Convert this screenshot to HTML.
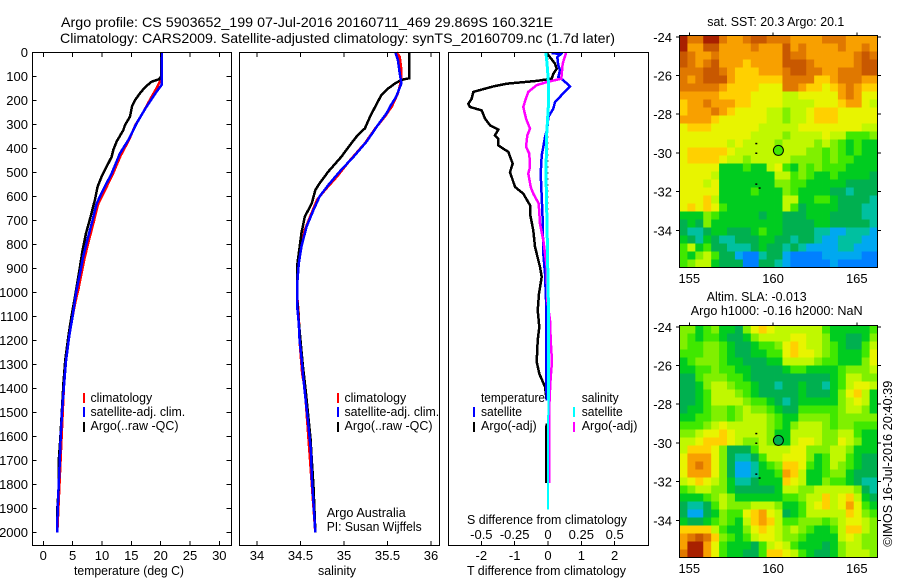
<!DOCTYPE html>
<html lang="en">
<head>
<meta charset="utf-8">
<title>Argo profile</title>
<style>
html,body{margin:0;padding:0;background:#fff;width:900px;height:580px;overflow:hidden}
svg{display:block}
text{font-family:"Liberation Sans",sans-serif;font-size:13px;fill:#000}
</style>
</head>
<body>
<svg id="chart" xmlns="http://www.w3.org/2000/svg" width="900" height="580" viewBox="0 0 900 580">
  <rect x="0" y="0" width="900" height="580" fill="#fff"/>
  <text x="61" y="27" font-size="14" textLength="492" lengthAdjust="spacingAndGlyphs" style="font-size:14px">Argo profile: CS 5903652_199 07-Jul-2016 20160711_469 29.869S 160.321E</text>
  <text x="60" y="43" textLength="555" lengthAdjust="spacingAndGlyphs" style="font-size:14px">Climatology: CARS2009. Satellite-adjusted climatology: synTS_20160709.nc (1.7d later)</text>

  <g id="map1"></g>
  <g id="map2"></g>
  <g id="lines"></g>
  <g id="ticks"></g>

  <rect x="32.5" y="52.5" width="199" height="493" fill="none" stroke="#000"/>
  <rect x="239.5" y="52.5" width="200" height="493" fill="none" stroke="#000"/>
  <rect x="448.5" y="52.5" width="200" height="493" fill="none" stroke="#000"/>
  <rect x="679.5" y="35.5" width="198" height="232" fill="none" stroke="#000"/>
  <rect x="679.5" y="325.5" width="198" height="232" fill="none" stroke="#000"/>

  <text x="74" y="575" textLength="110" lengthAdjust="spacingAndGlyphs">temperature (deg C)</text>
  <text x="318" y="575" textLength="38" lengthAdjust="spacingAndGlyphs">salinity</text>
  <text x="467" y="575" textLength="159" lengthAdjust="spacingAndGlyphs">T difference from climatology</text>
  <text x="467" y="524" textLength="160" lengthAdjust="spacingAndGlyphs">S difference from climatology</text>

  <g>
    <rect x="83" y="393" width="2" height="10" fill="#f00"/>
    <rect x="83" y="407" width="2" height="10" fill="#00f"/>
    <rect x="83" y="422" width="2" height="10" fill="#000"/>
    <text x="90.5" y="402" textLength="61.7" lengthAdjust="spacingAndGlyphs">climatology</text>
    <text x="90.5" y="416" textLength="94.7" lengthAdjust="spacingAndGlyphs">satellite-adj. clim.</text>
    <text x="90.5" y="430" textLength="88" lengthAdjust="spacingAndGlyphs">Argo(..raw -QC)</text>
  </g>
  <g>
    <rect x="337" y="393" width="2" height="10" fill="#f00"/>
    <rect x="337" y="407" width="2" height="10" fill="#00f"/>
    <rect x="337" y="422" width="2" height="10" fill="#000"/>
    <text x="344.5" y="402" textLength="61.7" lengthAdjust="spacingAndGlyphs">climatology</text>
    <text x="344.5" y="416" textLength="94.7" lengthAdjust="spacingAndGlyphs">satellite-adj. clim.</text>
    <text x="344.5" y="430" textLength="88" lengthAdjust="spacingAndGlyphs">Argo(..raw -QC)</text>
  </g>
  <g>
    <text x="481" y="402" textLength="64" lengthAdjust="spacingAndGlyphs">temperature</text>
    <rect x="473" y="407" width="2" height="10" fill="#00f"/>
    <text x="481" y="416" textLength="41" lengthAdjust="spacingAndGlyphs">satellite</text>
    <rect x="473" y="422" width="2" height="10" fill="#000"/>
    <text x="481" y="430" textLength="55.7" lengthAdjust="spacingAndGlyphs">Argo(-adj)</text>
    <text x="581.7" y="402" textLength="37" lengthAdjust="spacingAndGlyphs">salinity</text>
    <rect x="573" y="407" width="2" height="10" fill="#0ff"/>
    <text x="581.7" y="416" textLength="41" lengthAdjust="spacingAndGlyphs">satellite</text>
    <rect x="573" y="422" width="2" height="10" fill="#f0f"/>
    <text x="581.7" y="430" textLength="55.7" lengthAdjust="spacingAndGlyphs">Argo(-adj)</text>
  </g>

  <text x="326.7" y="517" textLength="79" lengthAdjust="spacingAndGlyphs">Argo Australia</text>
  <text x="326.7" y="531" textLength="95" lengthAdjust="spacingAndGlyphs">PI: Susan Wijffels</text>

  <text x="707.3" y="26" textLength="137" lengthAdjust="spacingAndGlyphs">sat. SST: 20.3 Argo: 20.1</text>
  <text x="706.7" y="301" textLength="100" lengthAdjust="spacingAndGlyphs">Altim. SLA: -0.013</text>
  <text x="690.7" y="315" textLength="172" lengthAdjust="spacingAndGlyphs">Argo h1000: -0.16 h2000: NaN</text>
  <text transform="translate(892,546.7) rotate(-90)" textLength="166" lengthAdjust="spacingAndGlyphs">©IMOS 16-Jul-2016 20:40:39</text>
</svg>

<script>
// ---------- tick label arrays ----------
var depthTicks = [0,100,200,300,400,500,600,700,800,900,1000,1100,1200,1300,1400,1500,1600,1700,1800,1900,2000];
var tempTicks = [0,5,10,15,20,25,30];
var salTicks = [34,34.5,35,35.5,36];
var tDiffTicks = [-2,-1,0,1,2];
var sDiffTicks = [-0.5,-0.25,0,0.25,0.5];
var lonTicks = [155,160,165];
var latTicks = [-24,-26,-28,-30,-32,-34];

// ---------- temperature profiles ----------
var tempClimDepth = [0,112,150,192,247,303,365,430,510,580,635,705,790,860,930,985,1010,1060,1100,1180,1290,1400,2000];
var tempClim = [20.17,20.1,19.3,18.3,17.1,15.7,14.6,13.2,11.8,10.4,9.3,8.6,7.7,7.0,6.45,6.0,5.75,5.3,5.0,4.43,3.86,3.5,2.39];
var tempArgoDepth = [0,100,112,122,146,171,199,226,268,303,324,372,407,435,476,518,560,615,685,754,824,893,1004,1100,1180,1280,1375,1500,1610,1700,1810,1890,2000];
var tempArgo = [20.17,20.06,19.77,18.47,17.33,16.48,15.63,15.11,14.77,13.92,13.64,12.5,11.93,11.65,10.8,9.94,9.26,8.8,8.07,7.27,6.7,6.25,5.5,4.8,4.3,3.75,3.45,3.15,2.9,2.65,2.65,2.42,2.35];
var tempSatDepth = [0,136,164,226,296,365,421,504,574,629,699,782,851,921,976,1005,1100,1180,1290,1400,1500,1610,1750,1840,1960,2000];
var tempSat = [20.17,20.17,19.3,17.6,15.9,14.5,13.07,11.65,10.2,9.1,8.4,7.5,6.8,6.25,5.8,5.57,5.0,4.43,3.86,3.5,3.18,2.95,2.73,2.56,2.39,2.39];

// ---------- salinity profiles ----------
var salClimDepth = [0,18,74,115,171,226,268,317,379,449,518,574,615,685,740,838,921,1005,1100,1200,1250,1340,1380,1450,2000];
var salClim = [35.6,35.64,35.66,35.66,35.62,35.55,35.47,35.36,35.24,35.07,34.92,34.78,34.69,34.61,34.55,34.49,34.46,34.46,34.48,34.49,34.5,34.52,34.54,34.56,34.67];
var salArgoDepth = [0,108,115,129,150,178,226,268,317,344,386,435,497,546,574,629,685,754,838,893,976,1005,1100,1200,1300,1410,1500,1610,1700,1810,1950,2000];
var salArgo = [35.75,35.75,35.66,35.59,35.51,35.43,35.36,35.3,35.24,35.16,35.07,34.97,34.82,34.72,34.67,34.63,34.55,34.51,34.48,34.46,34.46,34.46,34.475,34.5,34.525,34.56,34.585,34.615,34.63,34.65,34.665,34.67];
var salSatDepth = [0,32,87,129,185,226,254,303,372,435,497,553,601,657,726,810,879,976,1050,1130,1200,1270,1350,1450,1550,1660,1770,1880,2000];
var salSat = [35.59,35.62,35.64,35.66,35.6,35.53,35.49,35.39,35.26,35.11,34.95,34.82,34.72,34.65,34.57,34.51,34.48,34.46,34.46,34.48,34.49,34.51,34.53,34.56,34.59,34.62,34.63,34.65,34.67];

// ---------- T difference (null = gap in the profile) ----------
var tDiffArgoDepth = [3,47,68,89,110,119,131,142,165,193,214,228,242,276,304,322,346,360,388,415,464,499,561,589,637,672,742,811,894,936,1006,1075,1144,1200,1290,1339,1394,1450,1500,1547,1575,1795];
var tDiffArgo = [-0.04,0.21,0.26,0.16,0.11,-0.34,-1.24,-1.64,-2.24,-2.29,-2.39,-2.34,-1.99,-1.89,-1.74,-1.49,-1.59,-1.49,-1.49,-1.19,-1.06,-1.14,-0.99,-0.74,-0.54,-0.54,-0.44,-0.39,-0.24,-0.19,-0.27,-0.31,-0.26,-0.31,-0.34,-0.26,-0.09,-0.04,null,-0.04,-0.06,-0.06];
var tDiffSatDepth = [3,8,20,54,75,103,114,142,207,235,269,318,353,394,429,506,603,700,839,922,1031,1131,1339,1450];
var tDiffSat = [0.11,0.38,0.28,0.31,0.36,0.31,0.44,0.66,0.21,0.16,0.01,-0.02,-0.09,-0.14,-0.19,-0.22,-0.19,-0.16,-0.14,-0.09,-0.06,-0.06,-0.06,-0.04];

// ---------- S difference ----------
var sDiffArgoDepth = [3,47,110,124,137,165,200,228,276,318,346,394,422,478,506,561,589,630,714,783,894,1033,1117,1200,1290,1353,1408,1492,1795];
var sDiffArgo = [0.135,0.11,0.1,-0.01,-0.085,-0.148,-0.17,-0.185,-0.165,-0.135,-0.155,-0.165,-0.14,-0.135,-0.148,-0.13,-0.11,-0.07,-0.06,-0.035,-0.01,-0.005,0.015,0.02,0.03,0.02,0.015,0.008,0.008];
var sDiffSatDepth = [3,61,117,228,339,506,783,1033,1131,1450];
var sDiffSat = [-0.015,-0.005,0.0025,0.0025,-0.01,-0.015,-0.005,0.0025,0.0025,0.0025];
var sDiffSatDeepDepth = [1450,1905];
var sDiffSatDeep = [0.0025,0];

// ---------- maps: colour level per cell, north row first ----------
var sstLevels = [
[13,11,11,13,13,11,10,10,11,12,12,11,11,11,10,10,10,10,11,11,11,10,10,10,10],
[13,10,10,12,12,10,10,10,10,11,10,10,10,12,10,11,10,10,10,10,11,10,10,11,10],
[12,11,10,10,11,10,10,10,10,10,10,10,10,12,11,11,10,10,10,10,10,10,11,12,11],
[12,11,10,11,12,10,10,10,9,10,10,10,10,12,12,12,11,10,10,10,10,10,11,12,12],
[11,11,11,12,12,11,10,9,9,9,10,10,10,11,12,12,11,11,10,10,11,11,11,12,12],
[11,10,11,12,12,12,10,9,9,9,9,9,9,11,11,11,11,9,9,10,11,11,11,10,10],
[11,11,11,11,11,10,9,9,9,9,8,8,8,11,11,10,9,9,8,9,10,11,10,9,9],
[10,10,10,10,10,9,9,9,9,8,8,8,8,7,7,8,8,8,8,8,10,11,10,8,8],
[9,10,10,11,10,10,10,9,9,8,8,8,8,7,7,7,7,8,8,8,9,10,10,8,7],
[9,10,10,10,11,10,9,8,8,8,8,7,7,6,7,7,8,9,9,9,8,8,8,8,8],
[10,10,10,10,9,8,8,8,8,8,8,7,7,6,7,7,8,9,9,9,8,8,8,8,8],
[8,9,9,9,8,8,8,8,8,8,7,7,7,7,7,8,8,8,8,8,8,8,8,7,7],
[8,8,8,8,8,8,8,8,8,7,7,7,7,6,7,7,7,7,8,7,7,5,5,5,6],
[8,8,8,8,8,8,7,8,7,7,7,7,6,7,7,7,7,6,7,6,5,4,5,4,4],
[8,9,9,9,9,9,8,7,7,7,7,7,6,7,7,7,6,6,5,6,5,4,5,4,4],
[8,9,9,9,9,8,7,7,6,7,7,7,7,7,6,6,6,6,5,6,5,5,4,4,4],
[8,8,8,8,8,4,4,4,5,4,4,7,8,5,4,6,5,6,5,5,5,4,4,4,4],
[8,8,8,8,7,4,4,4,4,4,4,4,7,7,5,6,5,4,4,5,4,4,4,4,3],
[8,8,8,7,8,4,4,4,4,4,4,4,6,6,5,5,4,4,4,4,4,3,3,3,3],
[8,8,8,8,8,4,4,4,4,5,4,4,4,6,5,4,4,4,4,3,3,2,3,3,3],
[8,8,8,9,7,4,4,4,4,4,4,4,4,7,7,4,4,5,5,4,3,3,3,3,2],
[8,9,8,9,8,5,4,4,4,4,4,4,4,7,5,3,4,4,4,4,3,3,3,2,2],
[4,4,4,6,5,4,4,4,4,4,3,4,4,3,3,3,4,4,4,3,3,3,3,2,2],
[3,4,3,6,4,4,4,4,4,4,4,4,4,3,3,3,3,4,4,3,3,3,3,3,2],
[3,2,2,3,4,4,3,3,3,4,5,4,4,3,3,3,3,2,2,1,1,2,2,2,1],
[4,3,2,4,3,2,2,3,3,3,4,4,3,3,2,3,3,2,1,1,2,2,2,1,1],
[5,7,4,5,3,3,2,2,2,3,4,3,3,2,3,2,1,1,1,1,2,2,1,1,1],
[5,4,6,7,5,3,3,1,0,0,2,3,3,1,0,0,0,0,1,1,1,1,1,0,0],
[5,6,7,7,4,3,3,3,0,0,3,3,2,1,0,0,0,0,0,1,0,0,0,0,0]
];
var slaLevels = [
[6,6,4,5,6,4,4,3,6,8,9,8,7,7,7,7,7,7,5,4,4,4,4,4,5],
[6,5,4,5,5,4,3,3,4,6,7,7,7,7,8,8,7,7,6,4,4,3,3,4,6],
[6,5,5,6,6,5,4,3,3,4,5,5,6,8,9,8,7,7,6,5,4,3,3,5,7],
[5,5,5,6,6,5,4,3,3,4,4,5,5,8,9,8,8,7,6,5,4,4,4,5,8],
[4,5,6,6,6,5,4,4,3,3,3,4,4,7,7,7,7,6,5,5,4,4,4,6,8],
[4,4,5,5,6,5,5,4,4,3,3,3,3,4,5,5,4,4,4,4,5,6,6,6,7],
[3,3,5,6,6,6,5,5,4,3,3,3,3,3,3,3,3,3,3,4,5,7,7,6,6],
[3,3,4,6,7,7,6,5,5,4,3,3,2,3,3,4,3,3,2,4,5,7,8,8,7],
[3,3,4,5,7,7,7,6,5,4,3,3,3,3,3,4,3,3,3,4,6,8,9,7,4],
[3,3,4,5,7,7,7,7,6,5,5,4,3,2,3,4,4,4,4,4,6,7,8,7,4],
[3,4,4,5,6,6,5,6,7,6,6,5,4,3,3,5,5,5,5,5,6,7,7,6,4],
[4,4,5,5,6,6,5,6,7,7,7,6,5,4,4,6,6,6,6,5,6,6,6,6,6],
[5,5,5,6,7,8,7,7,7,7,7,6,5,4,6,7,7,7,6,5,6,6,5,5,5],
[6,6,7,8,8,9,8,7,7,7,7,6,4,4,7,7,7,7,6,6,7,7,5,4,4],
[7,7,8,9,9,9,8,7,6,6,7,6,4,4,7,8,8,7,6,6,8,7,6,4,4],
[7,9,9,9,8,6,3,3,3,5,7,7,7,7,8,8,6,6,6,7,7,6,4,4,4],
[8,10,10,10,8,6,3,2,2,3,5,7,7,8,8,8,6,4,5,7,7,5,4,3,3],
[8,10,11,10,8,6,3,1,1,2,4,5,6,9,9,8,5,4,5,7,6,5,4,3,3],
[8,10,10,10,8,6,3,1,1,2,4,4,5,10,9,7,4,4,5,6,6,4,3,3,3],
[7,8,9,8,7,6,4,2,2,3,4,4,4,9,8,7,4,4,6,5,5,4,3,2,2],
[5,6,7,7,6,6,4,3,3,3,3,3,4,7,7,6,6,7,7,7,7,7,6,3,2],
[4,4,4,5,6,7,6,4,4,4,4,4,4,5,5,6,7,7,9,7,8,9,7,4,3],
[3,2,2,3,5,7,6,6,6,7,7,7,6,4,4,5,7,8,9,7,8,10,8,5,4],
[3,1,1,3,4,6,5,5,8,9,10,8,7,3,4,5,7,7,7,7,7,9,8,6,5],
[4,3,3,4,5,6,5,4,7,9,10,9,7,5,5,6,6,6,5,6,7,8,8,7,6],
[9,9,9,9,7,5,4,4,6,8,9,8,7,6,7,6,5,4,4,5,7,9,9,7,6],
[10,11,12,11,9,6,5,4,5,7,8,8,7,6,6,5,4,4,4,4,7,8,7,6,6],
[10,13,13,10,8,5,4,4,4,3,5,7,8,7,5,4,4,4,3,4,6,7,7,6,6],
[11,13,13,10,8,5,4,4,3,3,5,9,9,8,7,5,4,3,3,4,6,7,7,7,6]
];
var argoLon = [160.32];
var argoLat = [-29.87];
var otherLon = [159,159,159,159.2];
var otherLat = [-29.5,-30,-31.6,-31.8];
var levelColors = ['#0080ff','#00a8f0','#00c0a0','#00b050','#00cc20','#40e800','#80f000','#c0f800','#e8f400','#ffd000','#f8a000','#e07800','#c85800','#a82000'];
var sstArgoLevel = 5;
var slaArgoLevel = 3;

// ---------- axis functions ----------
var NS = 'http://www.w3.org/2000/svg';
function depthY(d){ return 52.3 + d * 0.24; }
function tempX(v){ return 43.3 + v * 5.867; }
function salX(v){ return 257 + (v - 34) * 87; }
function tDiffX(v){ return 548 + v * 33.33; }
function sDiffX(v){ return 548 + v * 133.3; }
function lonX(v){ return 689.3 + (v - 155) * 16.75; }
function latY(top, v){ return top + (-24 - v) * 19.36; }

function make(tag, parent){
  var el = document.createElementNS(NS, tag);
  parent.appendChild(el);
  return el;
}
function addTick(parent, x1, y1, x2, y2){
  var t = make('line', parent);
  
  
  t.setAttribute('x1', x1); t.setAttribute('y1', y1);
  t.setAttribute('x2', x2); t.setAttribute('y2', y2);
  t.setAttribute('stroke', '#000');
  t.setAttribute('shape-rendering', 'crispEdges');
}
function addLabel(parent, x, y, anchor, str){
  var t = make('text', parent);
  
  
  t.setAttribute('x', x); t.setAttribute('y', y);
  t.setAttribute('text-anchor', anchor);
  t.textContent = str;
}
function drawSeries(name, xFn, depths, values, color, width){
  var d = '', pen = false;
  for (var i = 0; i < depths.length; i++){
    if (values[i] === null){ pen = false; continue; }
    d += (pen ? 'L' : 'M') + xFn(values[i]).toFixed(1) + ' ' + depthY(depths[i]).toFixed(1);
    pen = true;
  }
  var p = make('path', document.getElementById('lines'));
  
  
  p.setAttribute('d', d);
  p.setAttribute('fill', 'none');
  p.setAttribute('stroke', color);
  p.setAttribute('stroke-width', width);
  p.setAttribute('shape-rendering', 'crispEdges');
}
function drawMap(groupId, levels, top, left, bottom, argoLevel){
  var g = document.getElementById(groupId);
  var rows = levels.length, cols = levels[0].length;
  var cw = (877.5 - left) / cols, ch = (bottom - top) / rows;
  for (var r = 0; r < rows; r++){
    for (var c = 0; c < cols; c++){
      var cell = make('rect', g);
      
      
      cell.setAttribute('x', (left + c * cw).toFixed(2));
      cell.setAttribute('y', (top + r * ch).toFixed(2));
      cell.setAttribute('width', (cw + 0.4).toFixed(2));
      cell.setAttribute('height', (ch + 0.4).toFixed(2));
      cell.setAttribute('fill', levelColors[levels[r][c]]);
    }
  }
  var latTop = top + 1.3;
  for (var o = 0; o < otherLon.length; o++){
    var dot = make('rect', g);
    
    
    dot.setAttribute('x', (lonX(otherLon[o]) - 1).toFixed(1));
    dot.setAttribute('y', (latY(latTop, otherLat[o]) - 0.5).toFixed(1));
    dot.setAttribute('width', 2);
    dot.setAttribute('height', 1.5);
    dot.setAttribute('fill', '#000');
  }
  var m = make('circle', g);
  
  
  m.setAttribute('cx', lonX(argoLon[0]).toFixed(1));
  m.setAttribute('cy', latY(latTop, argoLat[0]).toFixed(1));
  m.setAttribute('r', 5);
  m.setAttribute('fill', levelColors[argoLevel]);
  m.setAttribute('stroke', '#000');

  var tg = document.getElementById('ticks');
  lonTicks.forEach(function(v){
    addTick(tg, lonX(v), top, lonX(v), top - 3);
    addLabel(tg, lonX(v), bottom + 15.5, 'middle', String(v));
  });
  latTicks.forEach(function(v){
    var y = latY(latTop, v);
    addTick(tg, 679.5, y, 676, y);
    addTick(tg, 877.5, y, 881, y);
    addLabel(tg, 672, y + 5, 'end', String(v));
  });
}

// ---------- draw ----------
drawMap('map1', sstLevels, 35.5, 679.5, 267.5, sstArgoLevel);
drawMap('map2', slaLevels, 325.5, 679.5, 557.5, slaArgoLevel);

var zero = make('line', document.getElementById('lines'));


zero.setAttribute('x1', tDiffX(0));
zero.setAttribute('x2', tDiffX(0));
zero.setAttribute('y1', depthY(0));
zero.setAttribute('y2', depthY(1900));
zero.setAttribute('stroke', '#000');
zero.setAttribute('stroke-dasharray', '1 5');
zero.setAttribute('shape-rendering', 'crispEdges');

drawSeries('temperature-climatology-line', tempX, tempClimDepth, tempClim, '#f00', 2.5);
drawSeries('temperature-argo-line', tempX, tempArgoDepth, tempArgo, '#000', 2.5);
drawSeries('temperature-satellite-line', tempX, tempSatDepth, tempSat, '#00f', 2.5);

drawSeries('salinity-climatology-line', salX, salClimDepth, salClim, '#f00', 2.5);
drawSeries('salinity-argo-line', salX, salArgoDepth, salArgo, '#000', 2.5);
drawSeries('salinity-satellite-line', salX, salSatDepth, salSat, '#00f', 2.5);

drawSeries('t-difference-argo-line', tDiffX, tDiffArgoDepth, tDiffArgo, '#000', 2.5);
drawSeries('t-difference-satellite-line', tDiffX, tDiffSatDepth, tDiffSat, '#00f', 2.5);
drawSeries('s-difference-argo-line', sDiffX, sDiffArgoDepth, sDiffArgo, '#f0f', 2.5);
drawSeries('s-difference-satellite-line', sDiffX, sDiffSatDepth, sDiffSat, '#0ff', 3);
drawSeries('s-difference-satellite-deep-line', sDiffX, sDiffSatDeepDepth, sDiffSatDeep, '#0ff', 2);

var ticksG = document.getElementById('ticks');
depthTicks.forEach(function(d){
  var y = depthY(d);
  addTick(ticksG, 32.5, y, 36.5, y);
  addTick(ticksG, 231.5, y, 226.5, y);
  addLabel(ticksG, 28, y + 4.5, 'end', String(d));
});
tempTicks.forEach(function(v){
  var x = tempX(v);
  addTick(ticksG, x, 52.5, x, 57);
  addTick(ticksG, x, 545.5, x, 541);
  addLabel(ticksG, x, 560, 'middle', String(v));
});
salTicks.forEach(function(v){
  var x = salX(v);
  addTick(ticksG, x, 52.5, x, 57);
  addTick(ticksG, x, 545.5, x, 541);
  addLabel(ticksG, x, 560, 'middle', String(v));
});
tDiffTicks.forEach(function(v){
  var x = tDiffX(v);
  addTick(ticksG, x, 52.5, x, 57);
  addTick(ticksG, x, 545.5, x, 541);
  addLabel(ticksG, x, 560, 'middle', String(v));
});
sDiffTicks.forEach(function(v){
  addLabel(ticksG, sDiffX(v), 539, 'middle', String(v));
});
</script>
</body>
</html>
